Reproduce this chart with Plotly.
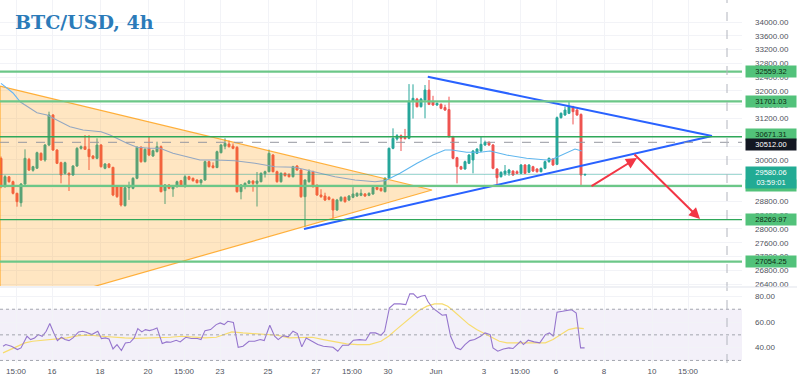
import pandas as pd
import plotly.graph_objects as go
from plotly.subplots import make_subplots

# ---------------- data ----------------
start_time = "2023-05-13 21:00"   # first 4h bar shown
opens = [30047, 29225, 29510, 29370, 29032, 28760, 29302, 30018, 29700, 29760,
         30192, 29998, 30433, 31303, 30288, 29921, 29612, 29612, 29563, 29824,
         30337, 30385, 30308, 30114, 30047, 30433, 29757, 29882, 29786, 29230,
         29225, 28674, 29196, 29177, 29467, 30366, 29950, 30337, 30114, 30240,
         30385, 29109, 29273, 29160, 29225, 29399, 29225, 29515, 29467, 29418,
         29341, 29418, 29950, 29830, 29780, 30211, 30400, 30462, 30400, 30366,
         29080, 29250, 29322, 29389, 29322, 29370, 29600, 29660, 30143, 29660,
         29370, 29612, 29583, 29515, 29825, 29708, 28935, 29370, 29660, 29225,
         28983, 28954, 28916, 28858, 28548, 28819, 28916, 28838, 28916, 28954,
         28974, 29013, 28974, 29013, 29206, 29177, 29080, 29467, 30337, 30607,
         30704, 30680, 30627, 31709, 31767, 31545, 31738, 32028, 31700, 31593,
         31613, 31520, 31460, 30675, 30066, 29805, 29737, 29902, 30000, 30192,
         30259, 30433, 30511, 30433, 29737, 29515, 29600, 29620, 29679, 29660,
         29612, 29853, 29641, 29805, 29737, 29660, 29757, 29950, 30027, 29873,
         31226, 31303, 31352, 31545, 31448, 31320, 29563]
highs = [30100, 29560, 29530, 29400, 29050, 29330, 30308, 30060, 29830, 30240,
         30220, 30460, 31400, 31330, 30310, 29950, 29950, 29640, 29850, 30370,
         30420, 30723, 30723, 30140, 30627, 30460, 29910, 29910, 29800, 29260,
         29260, 29230, 29370, 29500, 30400, 30400, 30340, 30694, 30300, 30530,
         30420, 29300, 29300, 29270, 29400, 29420, 29560, 29540, 29490, 29440,
         29440, 29980, 29980, 29930, 30270, 30460, 30627, 30560, 30480, 30400,
         29300, 29350, 29420, 29410, 29650, 29640, 29690, 30300, 30170, 29690,
         29640, 29640, 29610, 29830, 29850, 29730, 29440, 29728, 29690, 29300,
         29150, 29050, 28950, 28880, 28870, 28950, 28940, 28980, 29225, 29060,
         29150, 29040, 29060, 29240, 29250, 29200, 29500, 30360, 30917, 30750,
         30740, 30900, 32200, 32193, 31800, 31800, 32173, 32318, 31860, 31670,
         31640, 31600, 31835, 30700, 30090, 29830, 29980, 30170, 30290, 30340,
         30675, 30560, 30540, 30460, 29760, 29670, 29853, 29740, 29700, 29700,
         29880, 29880, 29880, 29830, 29760, 29780, 29980, 30070, 30050, 31260,
         31380, 31545, 31709, 31570, 31480, 31350, 29600]
lows = [29180, 29200, 29340, 29000, 28645, 28645, 29280, 29680, 29660, 29740,
        29980, 29950, 30400, 30260, 29880, 29322, 29580, 29100, 29540, 29800,
        30300, 30290, 29708, 30020, 30020, 29780, 29730, 29760, 28950, 28900,
        28650, 28650, 28840, 29150, 29440, 29920, 29930, 30110, 30090, 30220,
        29060, 28722, 29150, 28930, 29200, 29220, 29200, 29410, 29370, 29320,
        29250, 29400, 29780, 29750, 29760, 30190, 30310, 30360, 30310, 29050,
        28858, 29150, 29300, 29080, 28650, 29350, 29490, 29640, 29640, 29340,
        29340, 29520, 29490, 29490, 29690, 28900, 28065, 29340, 29200, 28960,
        28900, 28810, 28830, 28307, 28520, 28790, 28760, 28810, 28890, 28930,
        28950, 28930, 28950, 28990, 29120, 29080, 29060, 29440, 30310, 30560,
        30259, 30590, 30600, 31200, 31520, 31520, 31207, 31590, 31570, 31570,
        31470, 31420, 30650, 30020, 29322, 29710, 29720, 29880, 29612, 30170,
        30230, 30410, 30410, 29730, 29273, 29490, 29540, 29540, 29540, 29590,
        29590, 29590, 29620, 29650, 29630, 29640, 29730, 29920, 29830, 29850,
        31200, 31280, 31330, 31030, 31280, 29225, 29550]
closes = [29225, 29515, 29370, 29032, 28790, 29302, 30047, 29708, 29805, 30211,
          29998, 30433, 31303, 30288, 29902, 29563, 29921, 29563, 29824, 30337,
          30385, 30308, 30095, 30047, 30433, 29805, 29882, 29786, 28983, 28935,
          28693, 29196, 29244, 29467, 30366, 29950, 30308, 30143, 30269, 30385,
          29080, 29273, 29177, 29244, 29370, 29244, 29515, 29438, 29399, 29341,
          29420, 29950, 29805, 29780, 30240, 30433, 30482, 30385, 30337, 29080,
          29273, 29322, 29389, 29322, 29389, 29612, 29660, 30192, 29660, 29370,
          29612, 29544, 29515, 29805, 29708, 28935, 29418, 29660, 29225, 28983,
          28935, 28838, 28858, 28548, 28838, 28916, 28790, 28954, 29013, 29032,
          29032, 28954, 29032, 29206, 29148, 29109, 29467, 30337, 30627, 30704,
          30627, 30620, 31709, 31787, 31545, 31767, 32028, 31613, 31593, 31642,
          31497, 31448, 30675, 30047, 29805, 29737, 29950, 30143, 30259, 30317,
          30453, 30511, 30433, 29757, 29486, 29641, 29679, 29708, 29563, 29612,
          29853, 29612, 29853, 29679, 29660, 29757, 29950, 30047, 29853, 31226,
          31352, 31448, 31545, 31400, 31303, 29563, 29580.06]

# moving average on price (bar index, value)
ma_idx = [0, 3, 4.75, 9, 11.5, 15, 17.25, 20.5, 25, 27.25, 31.5, 34, 37.25, 39.75,
          43, 46.5, 49.75, 53.5, 58.5, 63.5, 68.5, 73.5, 78.5, 83.5, 88.5, 93.5,
          96, 99.75, 104, 108, 111, 112.7, 116.4, 119.75, 122.25, 126.4, 131.4,
          136.4, 138, 141.4, 143.5, 145.2]
ma_val = [32220, 31942, 31689, 31370, 31303, 31109, 30964, 30868, 30819, 30724,
          30483, 30367, 30338, 30338, 30193, 30094, 29998, 29998, 29978, 29903,
          29804, 29787, 29659, 29514, 29418, 29369, 29400, 29613, 29903, 30143,
          30289, 30289, 30222, 30222, 30260, 30143, 30048, 29998, 30027, 30193,
          30317, 30259]

# RSI (bar index, value)
rsi_idx = [0, 0.7, 2.1, 3.6, 4.5, 6.0, 6.9, 7.9, 8.8, 9.8, 10.8, 11.7, 12.7, 13.6,
           14.6, 15.5, 16.5, 17.5, 18.9, 19.9, 20.8, 22.2, 23.7, 24.6, 25.6, 26.5,
           27.5, 28.5, 29.6, 30.6, 31.8, 32.8, 33.7, 34.7, 35.6, 36.6, 37.6, 38.5,
           39.8, 40.9, 41.9, 43.3, 44.3, 45.7, 47.1, 48.6, 49.5, 50.5, 51.9, 53.3,
           54.3, 55.3, 56.2, 57.6, 58.8, 60.0, 61.5, 62.9, 64.3, 65.3, 66.7, 67.9,
           68.8, 70.1, 71.3, 72.5, 73.6, 74.7, 75.8, 77.3, 78.7, 80.1, 81.6, 82.5,
           83.7, 84.9, 86.4, 87.6, 89.2, 90.7, 91.8, 93.1, 94.5, 95.4, 96.6, 97.8,
           99.3, 100.7, 101.7, 102.6, 103.6, 104.5, 105.5, 106.2, 107.4, 108.4,
           109.8, 110.8, 111.9, 113.2, 114.4, 115.5, 116.7, 117.9, 119.4, 120.5,
           121.8, 122.5, 123.7, 125.1, 126.5, 127.5, 128.5, 129.4, 130.1, 131.3,
           132.8, 134.2, 135.6, 136.6, 137.6, 138.5, 139.9, 141.2, 142.1, 143.3,
           144.4, 145.4]
rsi_val = [41.1, 42.4, 41.1, 38.5, 39.8, 48.9, 46.3, 47.6, 50.2, 48.9, 52.8, 58.8,
           51.5, 45.5, 48.1, 46.3, 45.5, 47.6, 52.3, 52.8, 52.0, 50.2, 52.8, 47.1,
           47.6, 46.8, 39.0, 42.4, 37.7, 43.7, 44.2, 47.6, 54.9, 52.3, 54.1, 53.3,
           54.1, 55.4, 43.2, 44.5, 44.2, 45.8, 44.5, 48.1, 47.1, 47.1, 46.3, 53.3,
           54.1, 58.0, 59.3, 58.0, 60.6, 59.6, 40.3, 41.1, 45.0, 45.0, 46.3, 45.5,
           57.5, 48.9, 46.3, 49.4, 48.4, 52.8, 51.0, 40.6, 47.6, 45.0, 42.4, 41.1,
           40.3, 40.3, 37.2, 41.9, 41.9, 45.8, 46.3, 45.8, 51.5, 51.5, 49.7, 52.8,
           71.0, 74.2, 74.2, 73.6, 82.0, 82.0, 78.9, 80.2, 80.9, 76.2, 71.0, 68.4,
           65.3, 65.8, 48.9, 39.8, 38.5, 42.4, 45.5, 46.3, 48.9, 51.5, 50.2, 39.8,
           37.2, 39.0, 39.8, 39.3, 42.4, 45.0, 42.4, 45.8, 44.5, 43.7, 50.2, 51.5,
           48.9, 67.7, 68.4, 69.0, 69.7, 67.1, 39.8, 39.8]
rsima_idx = [0, 1.7, 3.6, 5.5, 7.4, 10.3, 13.1, 16.0, 18.9, 21.8, 24.6, 27.5, 30.4,
             33.2, 36.1, 39.0, 41.9, 44.7, 47.6, 50.5, 53.3, 55.3, 57.2, 60.0, 62.9,
             65.8, 68.6, 71.5, 74.4, 77.3, 80.1, 83.0, 85.9, 88.7, 91.6, 94.5, 96.4,
             98.3, 100.2, 102.1, 104.0, 106.0, 107.9, 109.8, 111.2, 112.7, 114.6,
             116.5, 118.4, 120.3, 122.2, 124.1, 126.0, 128.0, 129.9, 131.8, 133.7,
             135.6, 137.5, 139.4, 141.4, 143.3, 145.2]
rsima_val = [35.9, 38.5, 41.1, 43.7, 45.0, 45.8, 46.3, 47.6, 49.4, 49.7, 48.9, 48.1,
             47.6, 47.3, 47.6, 47.6, 48.1, 48.9, 48.1, 47.6, 48.1, 50.2, 52.3, 51.5,
             51.0, 50.7, 49.7, 47.6, 48.1, 48.1, 46.3, 44.5, 42.9, 42.4, 42.4, 45.0,
             48.9, 54.1, 59.3, 64.5, 69.0, 72.4, 74.2, 74.2, 72.4, 68.4, 63.2, 58.0,
             54.1, 51.0, 47.6, 45.0, 43.7, 43.7, 43.7, 43.7, 43.2, 43.7, 46.3, 50.2,
             54.1, 55.4, 54.9]

# horizontal levels
levels = [32559.32, 31701.03, 30671.31, 29250.27, 28269.97, 27054.25]
level_strong = [False, False, True, False, True, False]
ref_price = 30512.00
last_price = 29580.06
countdown = "03:59:01"

# price-axis ticks
price_ticks = list(range(26400, 34001, 400))
rsi_ticks = [40, 60, 80]

# drawings (bar index, price)
orange_idx = [-0.25, 107.75, -0.25]
orange_price = [32144, 29128, 25550]
blue_top_idx = [106.7, 177.75]
blue_top_price = [32414, 30694]
blue_bot_idx = [75.75, 177.75]
blue_bot_price = [27997, 30694]
arrow_up = [(147.25, 29216), (159.0, 30057)]
arrow_down = [(158.0, 30200), (174.75, 28288)]
vline_idx = 181.5

tick_times = ["2023-05-14 12:00", "2023-05-16", "2023-05-18", "2023-05-20",
              "2023-05-21 12:00", "2023-05-23", "2023-05-25", "2023-05-27",
              "2023-05-28 12:00", "2023-05-30", "2023-06-01", "2023-06-03",
              "2023-06-04 12:00", "2023-06-06", "2023-06-08", "2023-06-10",
              "2023-06-11 12:00"]
tick_text = ["15:00", "16", "18", "20", "15:00", "23", "25", "27", "15:00", "30",
             "Jun", "3", "15:00", "6", "8", "10", "15:00"]

# ---------------- helpers ----------------
T0 = pd.Timestamp(start_time)


def t(k):
    return T0 + pd.Timedelta(hours=4 * k)


def ts(k):
    return t(k).strftime("%Y-%m-%d %H:%M:%S")


bar_times = [t(k) for k in range(len(opens))]

fig = make_subplots(rows=2, cols=1, shared_xaxes=True, vertical_spacing=0.0)

UP, DOWN = "#26a69a", "#ef5350"
LBL = "#50535e"
FONT = "Liberation Sans"

# orange triangle
fig.add_trace(go.Scatter(x=[t(k) for k in orange_idx] + [t(orange_idx[0])],
                         y=orange_price + [orange_price[0]], mode="lines",
                         fill="toself", fillcolor="rgba(255,152,0,0.24)",
                         line=dict(color="rgba(255,152,0,0.75)", width=1.2),
                         hoverinfo="skip", showlegend=False), row=1, col=1)

# moving average (three colour segments)
segs = [(0, 3, "#64b5f6"), (2, 27, "#93a7c2"), (26, len(ma_idx), "#5fb6ee")]
for a, b, c in segs:
    fig.add_trace(go.Scatter(x=[t(k) for k in ma_idx[a:b]], y=ma_val[a:b],
                             mode="lines", line=dict(color=c, width=1.1),
                             hoverinfo="skip", showlegend=False), row=1, col=1)

# last price thin line
fig.add_trace(go.Scatter(x=[t(-1), t(200)], y=[last_price, last_price], mode="lines",
                         line=dict(color="rgba(38,166,154,0.45)", width=1),
                         hoverinfo="skip", showlegend=False), row=1, col=1)

fig.add_trace(go.Candlestick(x=bar_times, open=opens, high=highs, low=lows, close=closes,
                             increasing=dict(line=dict(color=UP, width=1), fillcolor=UP),
                             decreasing=dict(line=dict(color=DOWN, width=1), fillcolor=DOWN),
                             whiskerwidth=0, showlegend=False), row=1, col=1)

# blue triangle
for xi, yi in [(blue_top_idx, blue_top_price), (blue_bot_idx, blue_bot_price)]:
    fig.add_trace(go.Scatter(x=[t(k) for k in xi], y=yi, mode="lines",
                             line=dict(color="#2962ff", width=2),
                             hoverinfo="skip", showlegend=False), row=1, col=1)

# RSI
fig.add_trace(go.Scatter(x=[t(k + 0.5) for k in rsima_idx], y=rsima_val, mode="lines",
                         line=dict(color="#f7dc6f", width=1.2), hoverinfo="skip",
                         showlegend=False), row=2, col=1)
fig.add_trace(go.Scatter(x=[t(k + 0.5) for k in rsi_idx], y=rsi_val, mode="lines",
                         line=dict(color="#9575cd", width=1.1), hoverinfo="skip",
                         showlegend=False), row=2, col=1)

shapes = []
for lv, strong in zip(levels, level_strong):
    shapes.append(dict(type="line", xref="paper", x0=0, x1=1, yref="y", y0=lv, y1=lv,
                       line=dict(color="#2fa85a" if strong else "#6cc788",
                                 width=1.4 if strong else 2.2), layer="above"))
shapes.append(dict(type="line", xref="paper", x0=0, x1=1, yref="y", y0=ref_price,
                   y1=ref_price, line=dict(color="#9598a1", width=1, dash="dash")))
# RSI band and guides
shapes.append(dict(type="rect", xref="paper", x0=0, x1=1, yref="y2", y0=30, y1=70,
                   fillcolor="rgba(126,87,194,0.09)", line=dict(width=0), layer="below"))
for lv in (70, 50, 30):
    shapes.append(dict(type="line", xref="paper", x0=0, x1=1, yref="y2", y0=lv, y1=lv,
                       line=dict(color="#a3a6af", width=1, dash="dot")))
shapes.append(dict(type="line", xref="x", x0=t(vline_idx), x1=t(vline_idx), yref="paper",
                   y0=0, y1=1, line=dict(color="#b2b5be", width=1, dash="dash")))
shapes.append(dict(type="line", xref="paper", x0=0, x1=1.08, yref="paper", y0=0.2094,
                   y1=0.2094, line=dict(color="#e0e3eb", width=1)))

annotations = []
# title
annotations.append(dict(xref="paper", yref="paper", x=13 / 742, y=1 - 22 / 363,
                        xanchor="left", yanchor="middle", showarrow=False,
                        text="<b>BTC/USD, 4h</b>",
                        font=dict(family="DejaVu Serif", size=19, color="#2b7bb9")))


def box(price, text, bg, fg, yshift=0, height=None):
    d = dict(xref="paper", x=1, xanchor="left", xshift=3, yref="y", y=price,
             yanchor="middle", yshift=yshift, text=text, showarrow=False,
             bgcolor=bg, borderpad=1, width=48,
             font=dict(family=FONT, size=7.5, color=fg))
    if height:
        d["height"] = height
    return d


for lv in levels:
    annotations.append(box(lv, f"{lv:.2f}", "#52c27a", "#0c2d14", height=9))
annotations[3]["yshift"] = 2
annotations.append(box(ref_price, f"{ref_price:.2f}", "#131722", "#ffffff", yshift=-2, height=9))
annotations.append(box(last_price, f"{last_price:.2f}<br>{countdown}", "#22ab94", "#ffffff",
                       yshift=-3, height=19))

for (k0, p0), (k1, p1) in (arrow_up, arrow_down):
    annotations.append(dict(xref="x", yref="y", x=ts(k1), y=p1, axref="x", ayref="y",
                            ax=ts(k0), ay=p0, showarrow=True, arrowhead=2,
                            arrowsize=1.1, arrowwidth=2, arrowcolor="#f23645", text=""))

fig.update_layout(
    width=797, height=377, margin=dict(l=0, r=55, t=0, b=14, autoexpand=False),
    paper_bgcolor="white", plot_bgcolor="white", showlegend=False,
    shapes=shapes, annotations=annotations,
    xaxis=dict(range=[t(-0.25), t(185.25)], rangeslider=dict(visible=False),
               showticklabels=False, tickvals=tick_times, showgrid=True,
               gridcolor="#f2f3f7", zeroline=False, showline=False, automargin=False),
    xaxis2=dict(range=[t(-0.25), t(185.25)], tickvals=tick_times, ticktext=tick_text,
                showgrid=True, gridcolor="#f2f3f7", zeroline=False, showline=False,
                ticks="", automargin=False, ticklabelstandoff=2,
                tickfont=dict(family=FONT, size=8, color=LBL)),
    yaxis=dict(domain=[0.2121, 1], range=[26344.5, 34638.5], side="right",
               tickvals=price_ticks, tickformat=".2f", showgrid=True, gridcolor="#f2f3f7",
               zeroline=False, ticks="", ticklabelstandoff=12, automargin=False,
               tickfont=dict(family=FONT, size=8, color=LBL)),
    yaxis2=dict(domain=[0, 0.2066], range=[28.0, 86.6], side="right",
                tickvals=rsi_ticks, tickformat=".2f", showgrid=True,
                gridcolor="#f2f3f7", zeroline=False, ticks="", ticklabelstandoff=12,
                automargin=False, tickfont=dict(family=FONT, size=8, color=LBL)),
)

fig.write_html("out.html", config={"displayModeBar": False},
               post_script="document.body.style.margin='0px';"
                           "document.body.style.overflow='hidden';")
